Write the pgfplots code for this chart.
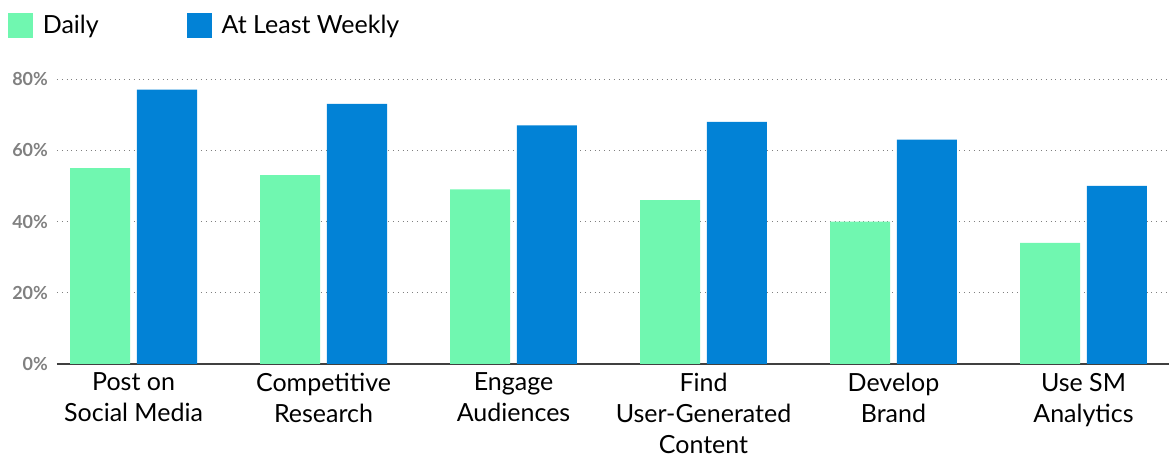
\documentclass[border=0pt]{standalone}
\usepackage{pgfplots}
\pgfplotsset{compat=1.18}
\usepackage{fontspec}
\setmainfont{Lato}
\definecolor{daily}{RGB}{112,247,176}
\definecolor{weekly}{RGB}{2,130,214}
\definecolor{ticktext}{RGB}{128,128,128}
\begin{document}
\begin{tikzpicture}
\useasboundingbox (-28.5pt,-48pt) rectangle (556pt,182pt);
\begin{axis}[
  at={(0,0)}, anchor=south west,
  scale only axis,
  width=556pt, height=142.5pt,
  xmin=-0.403, xmax=5.45,
  ymin=0, ymax=80,
  ytick={0,20,40,60,80},
  yticklabel={\pgfmathprintnumber{\tick}\%},
  /pgf/number format/assume math mode=true,
  yticklabel style={font=\bfseries\fontsize{9}{10}\selectfont, text=ticktext, xshift=-1pt},
  xtick={0,1,2,3,4,5},
  xticklabels={Post on\\Social Media, Competitive\\Research, Engage\\Audiences, Find\\User-Generated\\Content, Develop\\Brand, Use SM\\Analytics},
  xticklabel style={align=center, font=\fontsize{12.5}{15.5}\selectfont, text=black, yshift=-1pt},
  major tick length=0pt,
  axis x line*=bottom, axis y line*=left,
  x axis line style={draw=black!75, line width=0.6pt, -},
  y axis line style={draw=none},
  ymajorgrids,
  major grid style={dotted, black!50, line width=0.5pt},
  ybar, bar width=0.316,
  legend columns=2,
  legend style={draw=none, fill=none, at={(-0.05,1.255)}, anchor=north west,
    font=\fontsize{12.5}{14}\selectfont,
    /tikz/every odd column/.append style={column sep=3pt},
    /tikz/every even column/.append style={column sep=42pt}},
  legend image code/.code={\fill[#1] (0pt,-6.25pt) rectangle (12.5pt,6.25pt);},
]
\addplot[fill=daily, draw=none, bar shift=-0.176] coordinates {(0,55) (1,53) (2,49) (3,46) (4,40) (5,34)};
\addplot[fill=weekly, draw=none, bar shift=0.176] coordinates {(0,77) (1,73) (2,67) (3,68) (4,63) (5,50)};
\legend{Daily, At Least Weekly}
\end{axis}
\end{tikzpicture}
\end{document}
